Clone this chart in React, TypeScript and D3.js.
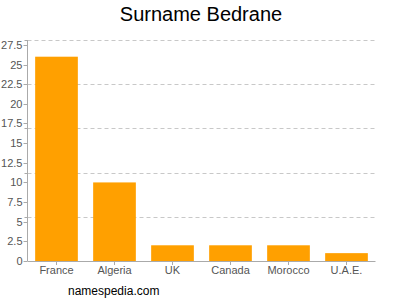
import React from "react";
import * as d3 from "d3";

const categories = ["France", "Algeria", "UK", "Canada", "Morocco", "U.A.E."];
const values = [26, 10, 2, 2, 2, 1];
const yTickValues = [0, 2.5, 5, 7.5, 10, 12.5, 15, 17.5, 20, 22.5, 25, 27.5];
const yMax = 28.125;
const gridCount = 5;
const title = "Surname Bedrane";
const footer = "namespedia.com";

export default function App() {
  const W = 400, H = 300;
  const left = 27.5, right = 375.5, top = 40, bottom = 261;
  const x = d3.scaleBand<string>().domain(categories).range([left, right]).paddingInner(0.264).paddingOuter(0.132);
  const y = d3.scaleLinear().domain([0, yMax]).range([bottom, top]);
  const grid = d3.range(1, gridCount + 1).map((k) => (yMax * k) / gridCount);
  const font = "'Liberation Sans', Arial, sans-serif";
  return (
    <svg width={W} height={H} style={{ position: "absolute", left: 0, top: 0 }} fontFamily={font}>
      <rect width={W} height={H} fill="#fff" />
      <text x={201} y={21} textAnchor="middle" fontSize={20} fill="#000">{title}</text>
      {grid.map((g, i) => (
        <g key={"g" + i}>
          <line x1={left} x2={right} y1={Math.round(y(g)) + 0.5} y2={Math.round(y(g)) + 0.5} stroke="#c8c8c8" strokeDasharray="4,3" />
          <line x1={left - 3} x2={left} y1={Math.round(y(g)) + 0.5} y2={Math.round(y(g)) + 0.5} stroke="#aaa" />
        </g>
      ))}
      {categories.map((c, i) => (
        <rect key={c} x={x(c)} y={y(values[i])} width={x.bandwidth()} height={y(0) - y(values[i])} fill="#ffa000" />
      ))}
      <line x1={left} x2={left} y1={top} y2={bottom} stroke="#aaa" />
      <line x1={left} x2={right} y1={bottom + 0.5} y2={bottom + 0.5} stroke="#aaa" />
      {yTickValues.map((v) => (
        <g key={"t" + v}>
          <line x1={left - 4} x2={left} y1={Math.round(y(v)) + 0.5} y2={Math.round(y(v)) + 0.5} stroke="#aaa" />
          <text x={left - 5} y={y(v) + 4} textAnchor="end" fontSize={11} fill="#555">{v}</text>
        </g>
      ))}
      {categories.map((c) => (
        <g key={"x" + c}>
          <line x1={(x(c) as number) + x.bandwidth() / 2} x2={(x(c) as number) + x.bandwidth() / 2} y1={bottom} y2={bottom + 4} stroke="#aaa" />
          <text x={(x(c) as number) + x.bandwidth() / 2} y={274} textAnchor="middle" fontSize={11} fill="#555">{c}</text>
        </g>
      ))}
      <text x={68} y={295} fontSize={12} fill="#000">{footer}</text>
    </svg>
  );
}
